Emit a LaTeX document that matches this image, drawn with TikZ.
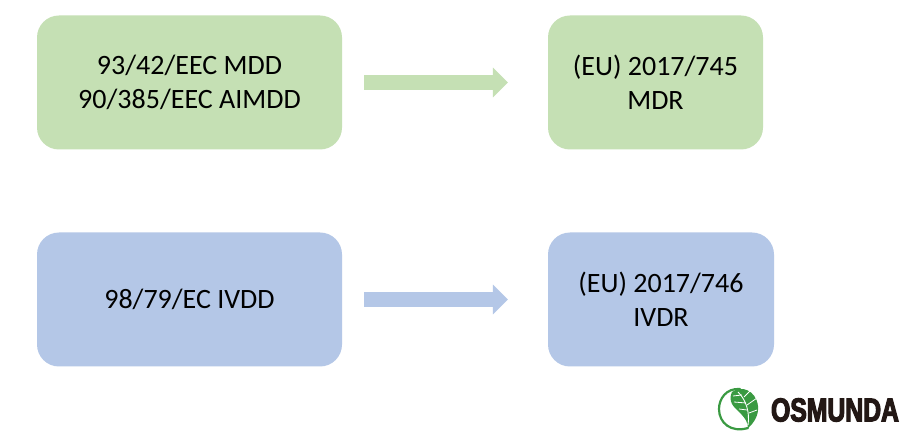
\documentclass[tikz,border=0pt]{standalone}
\usepackage{fontspec}
\setmainfont{Carlito}
\newfontfamily\brandfont[FakeStretch=0.75,FakeBold=3.5]{Liberation Sans Bold}
\usetikzlibrary{arrows.meta}
\definecolor{leafgreen}{HTML}{C5E0B4}
\definecolor{skyblue}{HTML}{B4C7E7}
\definecolor{brandgreen}{HTML}{3A9A42}
\definecolor{brandink}{HTML}{231815}
\tikzset{
  x=1pt,y=-1pt,
  regbox/.style={rounded corners=22pt,minimum height=134pt,align=center,
    font=\fontsize{28}{34}\selectfont,text=black,inner sep=0pt},
  flow/.style={line width=15pt,-{Triangle[length=15pt,width=29pt]},
    shorten <=22pt,shorten >=40pt}
}
\begin{document}
\begin{tikzpicture}
\useasboundingbox (0,0) rectangle (911,438);
\fill[white] (0,0) rectangle (911,438);

% Directives on the left, regulations on the right
\node[regbox,fill=leafgreen,minimum width=305pt] (mdd) at (189.5,82.5) {93/42/EEC MDD\\90/385/EEC AIMDD};
\node[regbox,fill=leafgreen,minimum width=215pt] (mdr) at (655.5,82.5) {(EU) 2017/745\\MDR};
\node[regbox,fill=skyblue,minimum width=305pt] (ivdd) at (189.5,299.5) {98/79/EC IVDD};
\node[regbox,fill=skyblue,minimum width=226pt] (ivdr) at (661,299.5) {(EU) 2017/746\\IVDR};

\draw[flow,leafgreen] (mdd) -- (mdr);
\draw[flow,skyblue] (ivdd) -- (ivdr);

% Brand mark: ring and leaf
\draw[brandgreen,line width=2.2pt,line cap=round]
  (740,389) .. controls (726,388) and (719,399) .. (719,409)
  .. controls (719,423) and (731,433) .. (748,428);
\fill[brandgreen] (732,392)
  .. controls (741,385) and (756,390) .. (758,406)
  .. controls (759,415) and (754,423) .. (748,428)
  .. controls (748,417) and (736,411) .. (732,404)
  .. controls (730,400) and (730,396) .. (732,392) -- cycle;
\draw[white,line width=0.9pt] (738,392) .. controls (746,400) and (750,412) .. (748,425);
\draw[white,line width=0.8pt] (744,397) -- (750,391) (747,405) -- (757,398) (749,413) -- (757,410)
  (742,395) -- (733,396) (746,403) -- (734,402) (747,410) -- (739,409);

\node[font=\brandfont\fontsize{33}{33}\selectfont,text=brandink,inner sep=0pt] (brand) at (835,410) {OSMUNDA};
\end{tikzpicture}
\end{document}
